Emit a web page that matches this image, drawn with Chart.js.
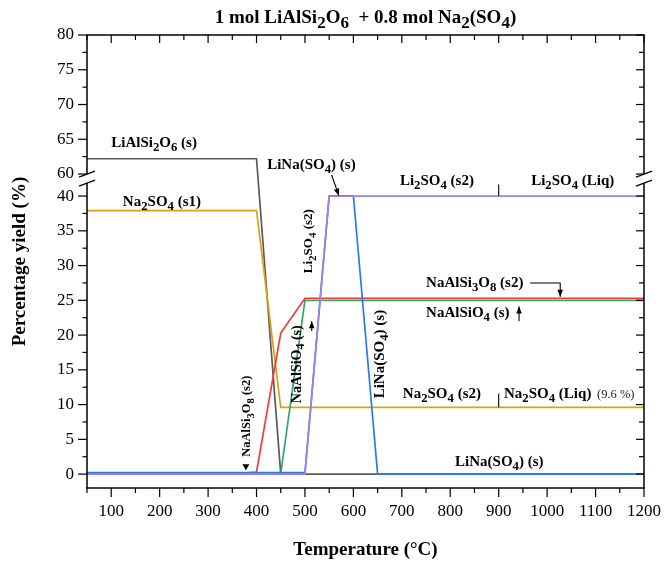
<!DOCTYPE html>
<html><head><meta charset="utf-8">
<script src="https://cdn.jsdelivr.net/npm/chart.js@4.4.1/dist/chart.umd.min.js"></script>
<style>html,body{margin:0;padding:0;background:#fff}canvas{display:block}</style>
</head><body>
<canvas id="c" width="665" height="562"></canvas>
<script>
// ---------------- data ----------------
const TEMPS = [50,100,150,200,250,300,350,400,450,500,550,600,650,700,750,800,850,900,950,1000,1050,1100,1150,1200];
const LIALSI2O6 = [62.2,62.2,62.2,62.2,62.2,62.2,62.2,62.2,0,0,0,0,0,0,0,0,0,0,0,0,0,0,0,0];
const NA2SO4    = [37.9,37.9,37.9,37.9,37.9,37.9,37.9,37.9,9.6,9.6,9.6,9.6,9.6,9.6,9.6,9.6,9.6,9.6,9.6,9.6,9.6,9.6,9.6,9.6];
const NAALSI3O8 = [0,0,0,0,0,0,0,0.3,20.3,25.3,25.3,25.3,25.3,25.3,25.3,25.3,25.3,25.3,25.3,25.3,25.3,25.3,25.3,25.3];
const NAALSIO4  = [0,0,0,0,0,0,0,0,0.1,25.0,25.0,25.0,25.0,25.0,25.0,25.0,25.0,25.0,25.0,25.0,25.0,25.0,25.0,25.0];
const LI2SO4    = [0,0,0,0,0,0,0,0,0,0,40.0,40.0,40.0,40.0,40.0,40.0,40.0,40.0,40.0,40.0,40.0,40.0,40.0,40.0];
const LINASO4   = [0.2,0.2,0.2,0.2,0.2,0.2,0.2,0.2,0.2,0.2,40.2,40.2,0,0,0,0,0,0,0,0,0,0,0,0];
const X_TICKS = [100,200,300,400,500,600,700,800,900,1000,1100,1200];
const Y_TICKS = [0,5,10,15,20,25,30,35,40,60,65,70,75,80];
const Y_LOW_MAX = 40, Y_HIGH_MIN = 60, Y_MIN = -2, Y_MAX = 80;
const GAP = 3.17; // size of the axis break, in value units

const FONT = '"Liberation Serif", "Times New Roman", serif';

// ---------------- broken y scale ----------------
function toVirtual(v){
  if (v <= Y_LOW_MAX) return v;
  if (v >= Y_HIGH_MIN) return v - Y_HIGH_MIN + Y_LOW_MAX + GAP;
  return Y_LOW_MAX + (v - Y_LOW_MAX) / (Y_HIGH_MIN - Y_LOW_MAX) * GAP;
}
function fromVirtual(w){
  if (w <= Y_LOW_MAX) return w;
  if (w >= Y_LOW_MAX + GAP) return w - Y_LOW_MAX - GAP + Y_HIGH_MIN;
  return Y_LOW_MAX + (w - Y_LOW_MAX) / GAP * (Y_HIGH_MIN - Y_LOW_MAX);
}
class BrokenScale extends Chart.LinearScale {
  getPixelForValue(value){
    if (value === null || value === undefined || isNaN(value)) return NaN;
    return super.getPixelForValue(toVirtual(value));
  }
  getValueForPixel(pixel){ return fromVirtual(super.getValueForPixel(pixel)); }
}
BrokenScale.id = 'broken';
BrokenScale.defaults = Chart.LinearScale.defaults;
Chart.register(BrokenScale);

// ---------------- rich text helper ----------------
function drawRich(ctx, x, y, markup, o){
  const parts = []; const re = /_\{([^}]*)\}/g; let last = 0, m;
  while ((m = re.exec(markup))) {
    if (m.index > last) parts.push({t: markup.slice(last, m.index), sub: false});
    parts.push({t: m[1], sub: true}); last = re.lastIndex;
  }
  if (last < markup.length) parts.push({t: markup.slice(last), sub: false});
  const w = o.bold === false ? '' : 'bold ';
  const mainF = w + o.size + 'px ' + FONT;
  const subF = w + (o.size * (o.subScale || 0.85)) + 'px ' + FONT;
  ctx.save(); ctx.translate(x, y); if (o.rotate) ctx.rotate(o.rotate);
  let total = 0;
  for (const p of parts){ ctx.font = p.sub ? subF : mainF; p.w = ctx.measureText(p.t).width; total += p.w; }
  let cx = o.align === 'center' ? -total / 2 : 0;
  ctx.fillStyle = o.color || '#000'; ctx.textBaseline = 'alphabetic'; ctx.textAlign = 'left';
  for (const p of parts){
    ctx.font = p.sub ? subF : mainF;
    ctx.fillText(p.t, cx, p.sub ? o.size * (o.subDrop || 0.27) : 0);
    cx += p.w;
  }
  ctx.restore();
}

// ---------------- annotations (data coordinates) ----------------
const LABELS = [
  {t:'LiAlSi_{2}O_{6} (s)', x:100, y:63.9, size:15},
  {t:'LiNa(SO_{4}) (s)', x:422, y:60.7, size:15},
  {t:'Li_{2}SO_{4} (s2)', x:696, y:50.4, size:15},
  {t:'Li_{2}SO_{4} (Liq)', x:967, y:50.4, size:15},
  {t:'Na_{2}SO_{4} (s1)', x:124, y:38.6, size:15},
  {t:'Li_{2}SO_{4} (s2)', x:515, y:28.9, size:13, rot:true},
  {t:'NaAlSi_{3}O_{8} (s2)', x:750, y:26.95, size:15},
  {t:'NaAlSiO_{4} (s)', x:750, y:22.6, size:15},
  {t:'NaAlSiO_{4} (s)', x:491, y:10.2, size:14, rot:true},
  {t:'LiNa(SO_{4}) (s)', x:663, y:10.9, size:15, rot:true},
  {t:'NaAlSi_{3}O_{8} (s2)', x:387, y:2.5, size:12.5, rot:true},
  {t:'Na_{2}SO_{4} (s2)', x:702, y:10.9, size:15},
  {t:'Na_{2}SO_{4} (Liq)', x:911, y:10.9, size:15},
  {t:'(9.6 %)', x:1103, y:10.9, size:12.5, bold:false, color:'#222'},
  {t:'LiNa(SO_{4}) (s)', x:810, y:1.15, size:15}
];
const ARROWS = [
  {pts:[[555,59.1],[570,40.4]], head:true},
  {pts:[[965,27.5],[1027,27.5],[1027,25.5]], head:true},
  {pts:[[942,22.0],[942,24.1]], head:true},
  {pts:[[514,20.6],[514,22.0]], head:true},
  {pts:[[900,40],[900,50.4]], head:false},
  {pts:[[900,9.6],[900,11.6]], head:false}
];

const overlay = {
  id: 'overlay',
  afterDraw(chart){
    const {ctx, chartArea:{left:L, right:R, top:T, bottom:B}, scales:{x, y}} = chart;
    ctx.save();
    ctx.strokeStyle = '#000'; ctx.lineWidth = 1.5; ctx.lineCap = 'butt';
    const line = (a,b,c,d) => { ctx.beginPath(); ctx.moveTo(a,b); ctx.lineTo(c,d); ctx.stroke(); };
    const y60 = y.getPixelForValue(Y_HIGH_MIN);
    const s1 = y60, s2 = y60 + 9;
    // frame
    line(L - 0.75, T, R + 0.75, T);
    line(L - 0.75, B, R + 0.75, B);
    for (const X of [L, R]) {
      line(X, T, X, s1);
      line(X, s2, X, B);
      ctx.lineWidth = 1.3;
      line(X - 8, s1 + 3, X + 8, s1 - 3);
      line(X - 8, s2 + 3, X + 8, s2 - 3);
      ctx.lineWidth = 1.5;
    }
    // y ticks
    ctx.lineWidth = 1.2;
    for (const v of Y_TICKS) {
      const p = y.getPixelForValue(v);
      line(L - 9, p, L, p); line(R, p, R - 8, p);
    }
    for (let v = 2.5; v < Y_MAX; v += 5) {
      if (v > Y_LOW_MAX && v < Y_HIGH_MIN) continue;
      const p = y.getPixelForValue(v);
      line(L - 4.5, p, L, p); line(R, p, R - 5, p);
    }
    // x ticks
    for (const v of X_TICKS) {
      const p = x.getPixelForValue(v);
      line(p, B, p, B + 9); line(p, T, p, T + 8);
    }
    for (let v = 50; v < 1200; v += 100) {
      const p = x.getPixelForValue(v);
      line(p, B, p, B + 5); line(p, T, p, T + 5);
    }
    // title
    drawRich(ctx, (L + R) / 2, 23, '1 mol LiAlSi_{2}O_{6}  + 0.8 mol Na_{2}(SO_{4})',
      {size:19, subScale:0.9, subDrop:0.27, align:'center'});
    // labels
    for (const a of LABELS) {
      drawRich(ctx, x.getPixelForValue(a.x), y.getPixelForValue(a.y), a.t,
        {size:a.size, bold:a.bold, color:a.color, rotate: a.rot ? -Math.PI/2 : 0});
    }
    // arrows
    ctx.lineWidth = 1.1; ctx.fillStyle = '#000';
    for (const ar of ARROWS) {
      const pts = ar.pts.map(([a,b]) => [x.getPixelForValue(a), y.getPixelForValue(b)]);
      ctx.beginPath(); ctx.moveTo(pts[0][0], pts[0][1]);
      for (let i = 1; i < pts.length; i++) ctx.lineTo(pts[i][0], pts[i][1]);
      ctx.stroke();
      if (ar.head) {
        const [x1,y1] = pts[pts.length-2], [x2,y2] = pts[pts.length-1];
        const ang = Math.atan2(y2-y1, x2-x1), hl = 7, hw = 2.8;
        ctx.beginPath();
        ctx.moveTo(x2, y2);
        ctx.lineTo(x2 - hl*Math.cos(ang) + hw*Math.sin(ang), y2 - hl*Math.sin(ang) - hw*Math.cos(ang));
        ctx.lineTo(x2 - hl*Math.cos(ang) - hw*Math.sin(ang), y2 - hl*Math.sin(ang) + hw*Math.cos(ang));
        ctx.closePath(); ctx.fill();
      }
    }
    // small down-pointing marker near NaAlSi3O8 rotated label
    const mx = x.getPixelForValue(378), my = y.getPixelForValue(0.55);
    ctx.beginPath(); ctx.moveTo(mx, my); ctx.lineTo(mx - 3.5, my - 6); ctx.lineTo(mx + 3.5, my - 6); ctx.closePath(); ctx.fill();
    ctx.restore();
  }
};

function series(label, vals, color, order){
  return { label, data: TEMPS.map((t, i) => ({x: t, y: vals[i]})), borderColor: color,
    backgroundColor: color, borderWidth: 1.7, pointRadius: 0, tension: 0, fill: false, order };
}

new Chart(document.getElementById('c'), {
  type: 'line',
  data: { datasets: [
    series('LiAlSi2O6 (s)', LIALSI2O6, '#5a5a5a', 6),
    series('Na2SO4', NA2SO4, '#d9a214', 5),
    series('NaAlSiO4 (s)', NAALSIO4, '#33a864', 4),
    series('NaAlSi3O8 (s2)', NAALSI3O8, '#f03a3a', 3),
    series('LiNa(SO4) (s)', LINASO4, '#2b7be4', 2),
    series('Li2SO4', LI2SO4, '#a47fe0', 1)
  ]},
  options: {
    responsive: false, animation: false, events: [], devicePixelRatio: 1,
    layout: { padding: { top: 35, right: 21, left: 0, bottom: 0 } },
    plugins: { legend: {display: false}, tooltip: {enabled: false}, title: {display: false} },
    scales: {
      x: {
        type: 'linear', min: 50, max: 1200,
        afterBuildTicks: s => { s.ticks = X_TICKS.map(v => ({value: v})); },
        afterFit: s => { s.height = 74; },
        ticks: { font: {family: FONT, size: 17}, color: '#000', padding: 4, maxRotation: 0, autoSkip: false, callback: v => String(v) },
        grid: { display: true, drawOnChartArea: false, drawTicks: true, tickLength: 9, tickColor: 'rgba(0,0,0,0)' },
        border: { display: false },
        title: { display: true, text: 'Temperature (°C)', color: '#000', font: {family: FONT, size: 19, weight: 'bold'}, padding: {top: 0, bottom: 1} }
      },
      y: {
        type: 'broken', min: Y_MIN, max: Y_LOW_MAX + GAP + (Y_MAX - Y_HIGH_MIN),
        afterBuildTicks: s => { s.ticks = Y_TICKS.map(v => ({value: v})); },
        afterFit: s => { s.width = 87; },
        ticks: { font: {family: FONT, size: 17}, color: '#000', padding: 4, autoSkip: false, callback: v => String(v) },
        grid: { display: true, drawOnChartArea: false, drawTicks: true, tickLength: 9, tickColor: 'rgba(0,0,0,0)' },
        border: { display: false },
        title: { display: true, text: 'Percentage yield (%)', color: '#000', font: {family: FONT, size: 19, weight: 'bold'}, padding: {top: 9, bottom: 0} }
      }
    }
  },
  plugins: [overlay]
});
</script>
</body></html>
